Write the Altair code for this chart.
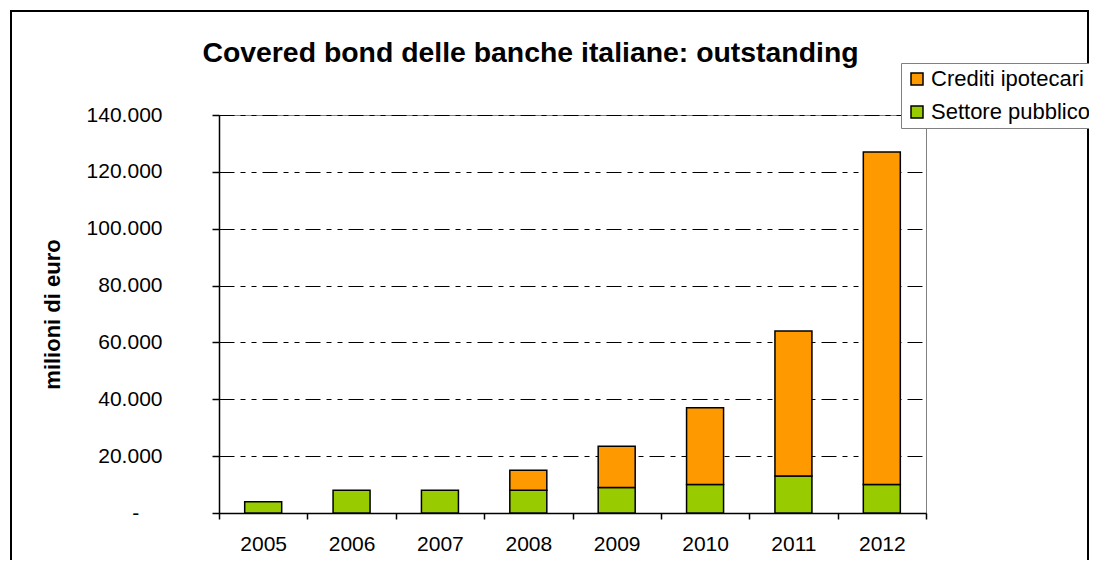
import altair as alt
import pandas as pd

# ---- data ----
years = ['2005', '2006', '2007', '2008', '2009', '2010', '2011', '2012']
settore_pubblico = [4000, 8000, 8000, 8000, 9000, 10000, 13000, 10000]
crediti_ipotecari = [0, 0, 0, 7000, 14500, 27000, 51000, 117000]
series_names = ['Crediti ipotecari', 'Settore pubblico']
series_colors = ['#FF9900', '#99CC00']
y_ticks = [0, 20000, 40000, 60000, 80000, 100000, 120000, 140000]

rows = []
for yr, sp, ci in zip(years, settore_pubblico, crediti_ipotecari):
    rows.append({'anno': yr, 'serie': 'Settore pubblico', 'valore': sp, 'ordine': 0})
    if ci > 0:
        rows.append({'anno': yr, 'serie': 'Crediti ipotecari', 'valore': ci, 'ordine': 1})
df = pd.DataFrame(rows)

FONT = 'Liberation Sans'
NB = '\u00a0'
ZW = '\u200b'

bars = alt.Chart(df).mark_bar(size=37, stroke='black', strokeWidth=1.5).encode(
    x=alt.X('anno:N', sort=years,
            scale=alt.Scale(paddingInner=0, paddingOuter=0),
            axis=alt.Axis(title=None, tickBand='extent', labelAngle=0, grid=False,
                          tickSize=6, labelPadding=14, labelFontSize=21)),
    y=alt.Y('valore:Q', stack='zero',
            scale=alt.Scale(domain=[0, 140000], nice=False),
            axis=alt.Axis(values=y_ticks, tickSize=7, labelPadding=50, labelFontSize=21,
                          labelExpr="datum.value == 0 ? '-" + NB * 4 + ZW + "' : replace(format(datum.value, ','), ',', '.')",
                          grid=True, gridColor='black', gridWidth=1, gridDash=[15, 6, 5, 6, 5, 6],
                          title='milioni di euro', titleFontSize=22, titleFontWeight='bold',
                          titleX=-160, titleY=199, titleAngle=-90, titleAlign='center',
                          titleBaseline='alphabetic')),
    color=alt.Color('serie:N',
                    scale=alt.Scale(domain=series_names, range=series_colors),
                    legend=alt.Legend(title=None, orient='none', legendX=682, legendY=-52,
                                      symbolType='square', symbolSize=144,
                                      symbolStrokeColor='black', symbolStrokeWidth=1.5,
                                      labelFontSize=22, labelFont=FONT, labelColor='black',
                                      labelOffset=3, rowPadding=11, padding=5,
                                      strokeColor='#808080', fillColor='white')),
    order=alt.Order('ordine:Q', sort='ascending'),
)

frame = alt.Chart(pd.DataFrame({'k': [0]})).mark_rect(
    filled=False, stroke='black', strokeWidth=2
).encode(
    x=alt.value(-208), x2=alt.value(869), y=alt.value(-104), y2=alt.value(600)
)

chart = alt.layer(frame, bars).properties(
    width=707, height=398,
    autosize=alt.AutoSizeParams(type='none'),
    padding={'left': 211, 'top': 107, 'right': 163, 'bottom': 47},
    background='white',
    title=alt.TitleParams(text='Covered bond delle banche italiane: outstanding',
                          font=FONT, fontSize=28.4, fontWeight='bold', color='black',
                          anchor='middle', frame='group', dx=-42, dy=80, offset=0,
                          baseline='alphabetic'),
).configure_axis(
    labelFont=FONT, titleFont=FONT, labelColor='black', titleColor='black',
    domainColor='black', tickColor='black', domainWidth=1.5, tickWidth=1.5
).configure_view(
    stroke='#808080', strokeWidth=1
)

chart.save('out.html', embed_options={'renderer': 'svg', 'actions': False})
